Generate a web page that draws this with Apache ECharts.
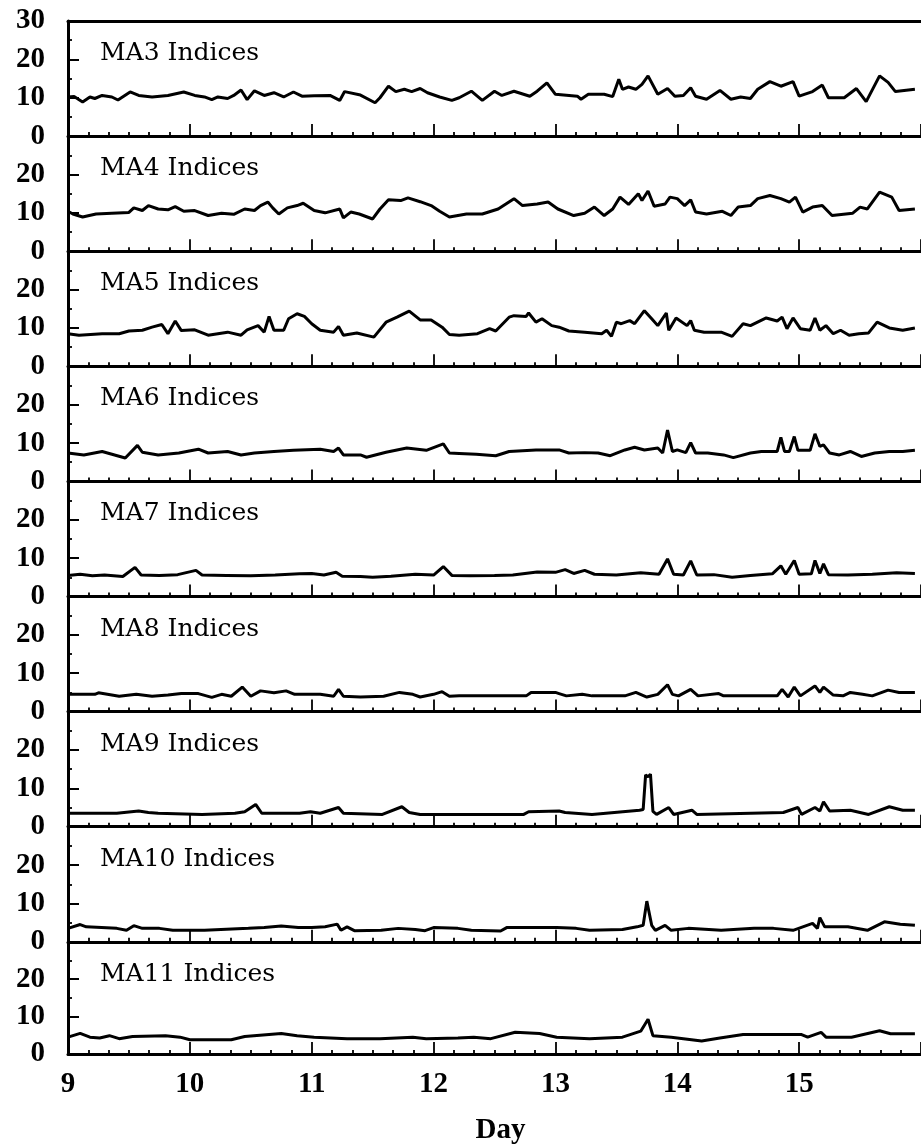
<!DOCTYPE html>
<html>
<head>
<meta charset="utf-8">
<script src="https://cdn.jsdelivr.net/npm/echarts@6/dist/echarts.min.js"></script>
<style>
  html, body { margin: 0; padding: 0; background: #fff; }
  #chart { width: 921px; height: 1146px; }
</style>
</head>
<body>
<div id="chart"></div>
<script>
// Panel names, top to bottom
const panelNames = ['MA3 Indices', 'MA4 Indices', 'MA5 Indices', 'MA6 Indices', 'MA7 Indices',
                    'MA8 Indices', 'MA9 Indices', 'MA10 Indices', 'MA11 Indices'];

// Day tick range and index tick range
const dayMin = 9, dayMax = 16, dayStep = 1;
const idxMin = 0, idxMax = 30, idxStep = 10;

// Each series: [day, index value]
const ma3 = [[9.00,10.2],[9.05,10.3],[9.12,8.9],[9.18,10.2],[9.22,9.8],[9.28,10.6],[9.36,10.2],[9.41,9.4],[9.51,11.5],[9.58,10.6],[9.69,10.2],[9.82,10.6],[9.95,11.5],[10.04,10.6],[10.12,10.2],[10.18,9.5],[10.23,10.2],[10.31,9.8],[10.36,10.6],[10.42,12.0],[10.47,9.5],[10.53,11.8],[10.61,10.6],[10.69,11.3],[10.77,10.2],[10.85,11.5],[10.92,10.4],[11.02,10.5],[11.15,10.6],[11.23,9.3],[11.27,11.6],[11.40,10.7],[11.52,8.7],[11.56,10.0],[11.63,13.0],[11.69,11.6],[11.76,12.2],[11.82,11.6],[11.89,12.4],[11.95,11.3],[12.05,10.2],[12.15,9.3],[12.21,10.0],[12.31,11.7],[12.40,9.3],[12.50,11.7],[12.56,10.6],[12.66,11.7],[12.79,10.4],[12.85,11.7],[12.93,13.9],[13.00,10.9],[13.18,10.4],[13.21,9.6],[13.27,10.9],[13.40,10.9],[13.47,10.3],[13.52,14.8],[13.55,12.2],[13.60,12.8],[13.66,12.2],[13.71,13.5],[13.76,15.7],[13.84,10.9],[13.92,12.4],[13.98,10.4],[14.05,10.6],[14.11,12.6],[14.15,10.4],[14.24,9.6],[14.35,11.9],[14.44,9.6],[14.52,10.2],[14.60,9.8],[14.66,12.2],[14.76,14.2],[14.85,13.0],[14.95,14.2],[15.00,10.4],[15.11,11.6],[15.19,13.3],[15.24,10.0],[15.37,10.0],[15.47,12.4],[15.55,9.0],[15.66,15.7],[15.73,14.0],[15.79,11.6],[15.95,12.2]];

const ma4 = [[9.00,10.4],[9.04,9.7],[9.12,8.9],[9.23,9.7],[9.36,9.9],[9.50,10.1],[9.54,11.3],[9.61,10.6],[9.66,11.9],[9.74,11.0],[9.82,10.8],[9.88,11.6],[9.95,10.4],[10.04,10.6],[10.15,9.3],[10.26,9.9],[10.36,9.6],[10.45,11.0],[10.53,10.6],[10.58,11.9],[10.64,12.8],[10.68,11.3],[10.73,9.7],[10.80,11.3],[10.88,11.9],[10.93,12.5],[11.02,10.6],[11.11,10.0],[11.23,11.0],[11.26,8.7],[11.32,10.2],[11.39,9.7],[11.50,8.4],[11.56,11.0],[11.63,13.4],[11.73,13.2],[11.79,13.9],[11.89,12.9],[11.98,11.9],[12.05,10.4],[12.13,8.9],[12.27,9.7],[12.40,9.7],[12.53,11.0],[12.66,13.7],[12.73,11.9],[12.85,12.3],[12.94,12.8],[13.02,11.0],[13.15,9.3],[13.24,9.9],[13.32,11.5],[13.40,9.3],[13.47,11.0],[13.53,14.1],[13.60,12.2],[13.68,15.0],[13.71,13.2],[13.76,15.7],[13.81,11.7],[13.90,12.3],[13.94,14.1],[14.00,13.7],[14.06,11.9],[14.11,13.4],[14.15,10.2],[14.24,9.7],[14.37,10.4],[14.44,9.3],[14.50,11.5],[14.60,11.9],[14.66,13.7],[14.76,14.5],[14.85,13.7],[14.92,12.8],[14.97,14.1],[15.03,10.2],[15.11,11.5],[15.19,11.9],[15.27,9.3],[15.44,9.9],[15.50,11.5],[15.56,11.0],[15.66,15.4],[15.76,14.1],[15.82,10.6],[15.95,11.0]];

const ma5 = [[9.00,8.5],[9.09,8.1],[9.28,8.5],[9.42,8.5],[9.50,9.2],[9.61,9.4],[9.69,10.2],[9.77,10.9],[9.82,8.5],[9.88,11.8],[9.93,9.3],[10.04,9.5],[10.15,8.1],[10.31,8.9],[10.42,8.1],[10.47,9.5],[10.56,10.6],[10.61,8.9],[10.65,13.0],[10.69,9.4],[10.77,9.4],[10.81,12.4],[10.88,13.7],[10.94,13.0],[11.00,11.1],[11.07,9.4],[11.18,8.9],[11.22,10.4],[11.26,8.1],[11.37,8.7],[11.51,7.6],[11.61,11.5],[11.70,12.8],[11.80,14.4],[11.89,12.1],[11.98,12.1],[12.07,10.2],[12.13,8.3],[12.21,8.1],[12.36,8.5],[12.46,9.8],[12.51,9.2],[12.62,12.8],[12.66,13.2],[12.76,13.0],[12.78,13.9],[12.84,11.5],[12.89,12.4],[12.97,10.6],[13.03,10.2],[13.11,9.2],[13.24,8.9],[13.38,8.5],[13.42,9.4],[13.46,7.8],[13.50,11.5],[13.54,11.1],[13.61,11.9],[13.65,11.1],[13.73,14.5],[13.79,12.4],[13.84,10.6],[13.91,13.9],[13.93,9.4],[13.99,12.6],[14.08,10.6],[14.11,11.9],[14.14,9.4],[14.22,8.9],[14.36,8.9],[14.45,7.8],[14.54,11.1],[14.60,10.6],[14.73,12.6],[14.82,11.8],[14.86,12.8],[14.90,9.8],[14.95,12.6],[15.01,9.8],[15.09,9.4],[15.13,12.6],[15.17,9.4],[15.22,10.6],[15.28,8.5],[15.34,9.4],[15.41,8.1],[15.49,8.5],[15.57,8.7],[15.64,11.5],[15.74,10.0],[15.85,9.4],[15.95,10.0]];

const ma6 = [[9.00,7.4],[9.13,6.9],[9.28,7.8],[9.47,6.1],[9.57,9.4],[9.61,7.6],[9.74,6.9],[9.91,7.4],[10.07,8.4],[10.15,7.4],[10.31,7.8],[10.42,6.9],[10.53,7.4],[10.69,7.8],[10.85,8.1],[11.07,8.4],[11.18,7.8],[11.22,8.7],[11.26,6.9],[11.40,6.9],[11.45,6.3],[11.61,7.6],[11.78,8.7],[11.94,8.1],[12.08,9.8],[12.13,7.4],[12.21,7.3],[12.35,7.1],[12.51,6.7],[12.62,7.8],[12.84,8.2],[13.03,8.2],[13.11,7.4],[13.24,7.5],[13.35,7.4],[13.45,6.7],[13.57,8.2],[13.65,8.9],[13.73,8.2],[13.84,8.7],[13.88,7.4],[13.92,13.4],[13.96,7.8],[14.00,8.2],[14.07,7.5],[14.11,10.1],[14.15,7.4],[14.25,7.4],[14.38,6.9],[14.46,6.2],[14.60,7.4],[14.69,7.8],[14.82,7.8],[14.85,11.5],[14.88,7.8],[14.92,7.8],[14.96,11.7],[14.99,8.1],[15.09,8.1],[15.13,12.4],[15.17,9.1],[15.20,9.5],[15.25,7.4],[15.33,6.9],[15.42,7.8],[15.51,6.5],[15.62,7.4],[15.74,7.8],[15.85,7.8],[15.95,8.1]];

const ma7 = [[9.00,5.5],[9.10,5.8],[9.20,5.4],[9.30,5.6],[9.45,5.2],[9.55,7.6],[9.60,5.6],[9.75,5.5],[9.90,5.7],[10.05,6.8],[10.10,5.6],[10.30,5.5],[10.50,5.4],[10.70,5.6],[10.90,5.9],[11.00,6.0],[11.10,5.6],[11.20,6.3],[11.25,5.3],[11.40,5.2],[11.50,5.0],[11.65,5.3],[11.85,5.8],[12.00,5.6],[12.08,7.8],[12.15,5.5],[12.30,5.4],[12.50,5.5],[12.65,5.6],[12.85,6.4],[13.00,6.3],[13.08,7.0],[13.15,6.0],[13.24,6.8],[13.32,5.8],[13.50,5.6],[13.70,6.2],[13.85,5.8],[13.92,9.8],[13.97,5.8],[14.05,5.6],[14.11,9.3],[14.16,5.6],[14.30,5.7],[14.45,5.0],[14.60,5.5],[14.78,5.9],[14.85,8.0],[14.89,5.8],[14.96,9.4],[15.00,5.8],[15.10,5.9],[15.13,9.4],[15.17,6.0],[15.20,8.5],[15.24,5.7],[15.40,5.6],[15.60,5.8],[15.80,6.2],[15.95,6.0]];

const ma8 = [[9.00,4.5],[9.22,4.5],[9.25,4.9],[9.42,4.0],[9.56,4.5],[9.69,4.0],[9.82,4.3],[9.93,4.7],[10.07,4.7],[10.18,3.7],[10.26,4.5],[10.34,4.0],[10.43,6.4],[10.50,4.0],[10.58,5.4],[10.69,4.9],[10.79,5.4],[10.86,4.5],[11.07,4.5],[11.18,4.0],[11.22,5.8],[11.26,4.0],[11.40,3.8],[11.59,4.0],[11.72,5.0],[11.83,4.5],[11.89,3.8],[12.00,4.5],[12.07,5.2],[12.13,4.0],[12.21,4.1],[12.49,4.1],[12.76,4.1],[12.80,5.0],[13.00,5.0],[13.03,4.7],[13.09,4.1],[13.22,4.5],[13.30,4.1],[13.57,4.1],[13.66,5.0],[13.75,3.8],[13.84,4.5],[13.92,7.0],[13.96,4.5],[14.01,4.1],[14.11,5.8],[14.17,4.1],[14.34,4.7],[14.38,4.1],[14.82,4.1],[14.86,5.8],[14.91,3.8],[14.96,6.4],[15.01,4.1],[15.13,6.7],[15.17,5.0],[15.20,6.4],[15.28,4.3],[15.36,4.1],[15.42,5.0],[15.52,4.5],[15.60,4.1],[15.73,5.6],[15.82,5.0],[15.95,5.0]];

const ma9 = [[9.00,3.5],[9.40,3.5],[9.58,4.1],[9.66,3.7],[9.74,3.5],[10.10,3.2],[10.37,3.5],[10.45,3.9],[10.54,5.8],[10.59,3.5],[10.90,3.5],[10.99,3.9],[11.07,3.5],[11.22,5.0],[11.26,3.5],[11.58,3.2],[11.74,5.2],[11.80,3.7],[11.89,3.2],[12.21,3.2],[12.74,3.2],[12.78,3.9],[13.03,4.1],[13.08,3.7],[13.30,3.2],[13.69,4.3],[13.72,4.5],[13.74,13.5],[13.76,13.0],[13.78,13.7],[13.80,4.0],[13.83,3.2],[13.93,5.0],[13.97,3.2],[14.12,4.3],[14.16,3.2],[14.87,3.7],[14.99,5.0],[15.02,3.2],[15.13,5.0],[15.17,4.1],[15.20,6.5],[15.25,4.1],[15.42,4.3],[15.57,3.2],[15.74,5.2],[15.85,4.3],[15.95,4.3]];

const ma10 = [[9.00,3.5],[9.10,4.5],[9.15,3.9],[9.40,3.5],[9.48,3.0],[9.54,4.2],[9.61,3.5],[9.75,3.5],[9.86,3.0],[10.12,3.0],[10.48,3.5],[10.61,3.7],[10.75,4.1],[10.89,3.7],[11.00,3.7],[11.11,3.9],[11.21,4.6],[11.24,3.0],[11.29,3.9],[11.35,2.9],[11.57,3.0],[11.71,3.5],[11.85,3.2],[11.93,2.9],[12.00,3.7],[12.20,3.5],[12.31,3.0],[12.55,2.8],[12.60,3.7],[13.01,3.7],[13.17,3.5],[13.28,3.0],[13.55,3.2],[13.67,3.9],[13.72,4.3],[13.75,10.6],[13.79,4.3],[13.82,3.0],[13.90,4.3],[13.95,3.0],[14.09,3.5],[14.36,3.0],[14.63,3.5],[14.79,3.5],[14.95,3.0],[15.11,4.8],[15.15,3.5],[15.17,6.3],[15.21,3.9],[15.40,3.9],[15.56,3.0],[15.70,5.2],[15.83,4.6],[15.95,4.3]];

const ma11 = [[9.00,4.5],[9.10,5.5],[9.18,4.5],[9.26,4.3],[9.34,4.9],[9.42,4.1],[9.53,4.7],[9.80,4.9],[9.92,4.5],[10.00,3.8],[10.34,3.8],[10.45,4.7],[10.75,5.5],[10.88,4.9],[11.02,4.5],[11.29,4.1],[11.56,4.1],[11.83,4.5],[11.94,4.1],[12.20,4.3],[12.33,4.5],[12.47,4.1],[12.67,5.8],[12.87,5.5],[13.01,4.5],[13.28,4.1],[13.55,4.5],[13.70,6.1],[13.76,9.3],[13.80,4.9],[13.95,4.5],[14.20,3.5],[14.35,4.3],[14.54,5.2],[15.02,5.2],[15.07,4.5],[15.18,5.8],[15.22,4.5],[15.43,4.5],[15.66,6.2],[15.75,5.4],[15.95,5.4]];

const seriesData = [ma3, ma4, ma5, ma6, ma7, ma8, ma9, ma10, ma11];

// Stacked panel geometry
const top0 = 21, panelH = 115.1, leftEdge = 68, rightEdge = -10;
const numFont = "'Liberation Serif', 'Times New Roman', serif";

const grids = [], xAxes = [], yAxes = [], titles = [], series = [];
const n = panelNames.length;

panelNames.forEach((name, i) => {
  const top = top0 + i * panelH;
  grids.push({ left: leftEdge, right: rightEdge, top: top, height: panelH });
  const last = i === n - 1;
  xAxes.push({
    type: 'value', gridIndex: i, min: dayMin, max: dayMax, interval: dayStep,
    axisLine: { show: true, onZero: false, lineStyle: { color: '#000', width: 3 } },
    axisTick: { show: true, inside: true, length: 12, lineStyle: { color: '#000', width: 1.8 } },
    minorTick: { show: true, splitNumber: 6, length: 4, lineStyle: { color: '#000', width: 1.8 } },
    splitLine: { show: false },
    axisLabel: {
      show: last, margin: 16, showMaxLabel: false,
      fontFamily: numFont, fontWeight: 'bold', fontSize: 29, color: '#000'
    },
    name: last ? 'Day' : '',
    nameLocation: 'middle', nameGap: 62,
    nameTextStyle: { fontFamily: numFont, fontWeight: 'bold', fontSize: 29, color: '#000', padding: [0, 0, 0, 12] }
  });
  yAxes.push({
    type: 'value', gridIndex: i, min: idxMin, max: idxMax, interval: idxStep,
    axisLine: { show: true, lineStyle: { color: '#000', width: 3 } },
    axisTick: { show: true, inside: true, length: 11, lineStyle: { color: '#000', width: 2 } },
    minorTick: { show: true, splitNumber: 2, length: 4, lineStyle: { color: '#000', width: 1.8 } },
    splitLine: { show: false },
    axisLabel: {
      margin: 23, fontFamily: numFont, fontWeight: 'bold', fontSize: 29, color: '#000',
      formatter: v => (i > 0 && v === idxMax) ? '' : String(v)
    }
  });
  titles.push({
    text: name, left: 95, top: top + 15,
    textStyle: { fontFamily: "'DejaVu Serif', serif", fontWeight: 'normal', fontSize: 25, color: '#000' }
  });
  series.push({
    type: 'line', xAxisIndex: i, yAxisIndex: i, data: seriesData[i],
    showSymbol: false, symbol: 'none', smooth: false, animation: false,
    lineStyle: { color: '#000', width: 3 }
  });
});

// Upper frame line of the top panel
xAxes.push({
  type: 'value', gridIndex: 0, position: 'top', min: dayMin, max: dayMax,
  axisLine: { show: true, onZero: false, lineStyle: { color: '#000', width: 3 } },
  axisTick: { show: false }, axisLabel: { show: false }, splitLine: { show: false }
});

const chart = echarts.init(document.getElementById('chart'), null, { renderer: 'canvas' });
chart.setOption({
  backgroundColor: '#fff',
  animation: false,
  title: titles,
  grid: grids,
  xAxis: xAxes,
  yAxis: yAxes,
  series: series
});
</script>
</body>
</html>
